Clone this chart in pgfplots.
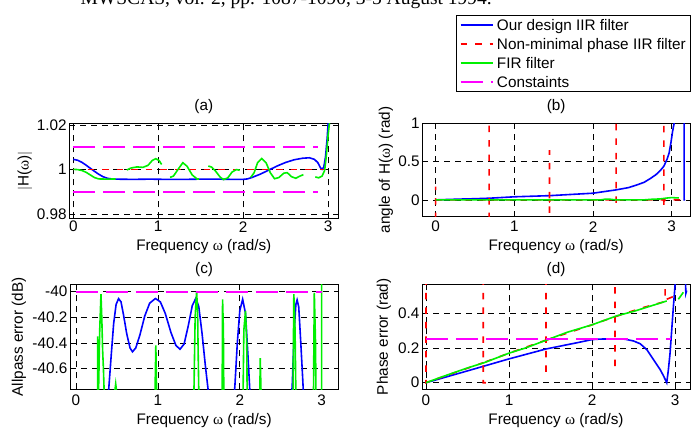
\documentclass[border=0pt]{standalone}
\usepackage{fontspec}
\setmainfont{Liberation Sans}
\newfontfamily\symb{Liberation Serif}
\newfontfamily\refont{Liberation Serif}
\usepackage{pgfplots}
\pgfplotsset{compat=1.18}

\newcommand{\om}{{\symb ω}}
\definecolor{mlgreen}{RGB}{0,240,0}
\definecolor{mlblue}{RGB}{0,0,255}
\definecolor{mlred}{RGB}{255,0,0}
\definecolor{mlmag}{RGB}{255,0,255}

\tikzset{
  iir/.style={color=mlblue, line width=1.6pt},
  nmp/.style={color=mlred, line width=1.6pt, dash pattern=on 6.5pt off 8pt},
  fir/.style={color=mlgreen, line width=1.6pt},
  cons/.style={color=mlmag, line width=2pt, dash pattern=on 22pt off 8pt},
}

\pgfplotsset{
  every axis title shift=0pt,
  panel/.style={
    scale only axis,
    axis line style={line width=0.9pt},
    grid=major,
    major grid style={black, line width=0.6pt, dash pattern=on 6pt off 5pt},
    tick align=inside, major tick length=3pt,
    tick style={black, line width=0.6pt},
    xtick={0,1,2,3}, xticklabels={0,1,2,3},
    unbounded coords=jump,
    xlabel={Frequency \om\ (rad/s)},
    yticklabel style={anchor=east, inner sep=0pt, xshift=-2.5pt},
  },
}

\begin{document}
\fontsize{15.3}{18}\selectfont
\begin{tikzpicture}
\path[use as bounding box] (0pt,0pt) rectangle (699pt,-429pt);
\node[anchor=base east, inner sep=0pt, font=\refont\fontsize{19.5}{22}\selectfont] at (492pt,-4.5pt)
  {MWSCAS, vol. 2, pp. 1087-1090, 3-5 August 1994.};

% (a) magnitude
\begin{axis}[panel,
  at={(69.3pt,-218.3pt)}, anchor=south west, width=269pt, height=95pt,
  xmin=-0.047, xmax=3.121, ymin=0.978, ymax=1.0207,
  ytick={0.98,1,1.02}, yticklabels={0.98,1,1.02},
  xticklabel style={anchor=center, inner sep=0pt, yshift=-8.4pt},
  title={(a)}, title style={at={(axis description cs:0.5,1.1747)}, anchor=center},
  xlabel style={at={(axis description cs:0.5,-0.299)}, anchor=center},
  ylabel={$|$H(\om)$|$}, ylabel style={at={(axis description cs:-0.1647,0.5)}, anchor=center},
]
\addplot[iir] coordinates {(0,1.0045)(0.05,1.0041)(0.1,1.0032)(0.15,1.0019)(0.2,1.0005)(0.25,0.9991)(0.3,0.9978)(0.35,0.9967)(0.4,0.9960)(0.45,0.9957)(0.5,0.9956)(0.7,0.9955)(0.9,0.9956)(1.1,0.9955)(1.3,0.9955)(1.5,0.9956)(1.7,0.9956)(1.9,0.9955)(2.0,0.9955)(2.05,0.9957)(2.1,0.9963)(2.2,0.9978)(2.32,1.0)(2.4,1.0015)(2.5,1.0031)(2.6,1.0043)(2.7,1.0050)(2.78,1.0052)(2.84,1.0045)(2.88,1.0030)(2.91,1.0008)(2.93,1.0)(2.95,1.0010)(2.97,1.0055)(2.99,1.0140)(3.005,1.0230)};
\addplot[nmp] coordinates {(0,1)(3.0,1)};
\addplot[fir] coordinates {(0,1.0)(0.05,0.9999)(0.1,0.9995)(0.15,0.9987)(0.2,0.9975)(0.25,0.9963)(0.3,0.9957)(0.4,0.9956)(0.5,0.9957)
 (0.56,nan)
 (0.63,0.9997)(0.68,1.0006)(0.75,1.0011)(0.82,1.0009)(0.88,1.0018)(0.93,1.0040)(0.97,1.0048)(1.01,1.0040)(1.04,1.0022)
 (1.1,nan)
 (1.14,0.9964)(1.18,0.9970)(1.23,0.9998)(1.29,1.0030)(1.34,1.0014)(1.40,0.9975)(1.46,0.9956)(1.48,0.9957)
 (1.55,nan)
 (1.59,1.0015)(1.63,1.0010)(1.68,0.9990)(1.73,0.9965)(1.77,0.9954)(1.82,0.9962)(1.87,0.9988)(1.92,0.9999)(1.96,0.9996)
 (2.03,nan)
 (2.09,0.9964)(2.13,0.9985)(2.17,1.0030)(2.22,1.0049)(2.27,1.0030)(2.32,0.9985)(2.37,0.9958)(2.42,0.9963)(2.48,0.9983)(2.52,0.9985)(2.57,0.9967)(2.62,0.9960)(2.67,0.9970)(2.71,0.9976)
 (2.8,nan)
 (2.85,0.9966)(2.89,0.9962)(2.93,0.9970)(2.96,0.9995)(2.98,1.006)(3.0,1.015)(3.02,1.022)};
\addplot[cons] coordinates {(0,1.01)(2.88,1.01) (1,nan) (0,0.99)(2.88,0.99)};
\end{axis}

% (b) phase
\begin{axis}[panel,
  at={(422.3pt,-216.7pt)}, anchor=south west, width=267.7pt, height=93.4pt,
  xmin=-0.17, xmax=3.232, ymin=-0.22, ymax=1.0,
  ytick={0,0.5,1}, yticklabels={0,0.5,1},
  xticklabel style={anchor=center, inner sep=0pt, yshift=-10pt},
  title={(b)}, title style={at={(axis description cs:0.5,1.1777)}, anchor=center},
  xlabel style={at={(axis description cs:0.5,-0.3212)}, anchor=center},
  ylabel={angle of H(\om) (rad)}, ylabel style={at={(axis description cs:-0.1356,0.5)}, anchor=center},
  legend style={at={(axis description cs:1.0026,2.156)}, anchor=north east, draw=black, line width=0.9pt, fill=white,
    inner xsep=3.5pt, inner ysep=0pt, row sep=0pt,
    nodes={inner sep=1pt, text height=14pt, text depth=3pt},
    /tikz/every odd column/.append style={column sep=2.3pt}},
  legend cell align=left,
  legend image code/.code={\draw[#1] (0pt,0pt) -- (32pt,0pt);},
]
\addplot[iir, forget plot] coordinates {(0,0)(0.31,0.01)(0.5,0.015)(0.69,0.022)(1.0,0.04)(1.45,0.055)(2.0,0.087)(2.29,0.13)(2.45,0.16)(2.56,0.196)(2.65,0.23)(2.73,0.28)(2.8,0.33)(2.86,0.39)(2.9,0.44)(2.94,0.53)(2.966,0.61)(2.99,0.75)(3.01,0.89)(3.03,1.0)(3.04,1.1) (3.1,nan) (3.157,1.1)(3.157,0.0)(3.17,0)};
\addplot[nmp, forget plot] coordinates {(0,-0.25)(0,0.174) (0.3,nan)
 (0.68,-0.25)(0.68,1.1) (1,nan)
 (1.447,-0.17)(1.447,0.65) (2,nan)
 (2.294,-0.04)(2.294,1.1) (2.5,nan)
 (2.90,-0.065)(2.90,1.1) (3,nan)
 (0,0)(0.66,0)(0.68,-0.03)(0.70,0)(1.44,0)(1.447,-0.02)(1.46,0)(2.28,0)(2.294,-0.03)(2.31,0)(2.89,0)(2.90,-0.02)(2.92,0)(3.14,0)};
\addplot[fir, forget plot] coordinates {(0,0)(2.1,0)(2.15,0.008)(2.2,0.01)(2.25,0.004)(2.3,0)(2.65,0)(2.75,0.008)(2.85,0.012)(2.95,0.025)(3.0,0.03)(3.04,0.027)(3.09,0.025)};
\addlegendimage{iir}\addlegendentry{Our design IIR filter}
\addlegendimage{nmp}\addlegendentry{Non-minimal phase IIR filter}
\addlegendimage{fir}\addlegendentry{FIR filter}
\addlegendimage{cons}\addlegendentry{Constaints}
\end{axis}

% (c) allpass error
\begin{axis}[panel,
  at={(70pt,-389.3pt)}, anchor=south west, width=268.3pt, height=105pt,
  xmin=-0.073, xmax=3.203, ymin=-40.763, ymax=-39.943,
  ytick={-40.6,-40.4,-40.2,-40}, yticklabels={-40.6,-40.4,-40.2,-40},
  xticklabel style={anchor=center, inner sep=0pt, yshift=-10.7pt},
  title={(c)}, title style={at={(axis description cs:0.5,1.136)}, anchor=center},
  xlabel style={at={(axis description cs:0.5,-0.297)}, anchor=center},
  ylabel={Allpass error (dB)}, ylabel style={at={(axis description cs:-0.19,0.5)}, anchor=center},
]
\addplot[iir] coordinates {(0.38,-40.85)(0.40,-40.76)(0.43,-40.5)(0.46,-40.25)(0.49,-40.1)(0.52,-40.055)(0.55,-40.08)(0.58,-40.18)(0.62,-40.33)(0.66,-40.44)(0.69,-40.47)(0.73,-40.44)(0.78,-40.34)(0.84,-40.19)(0.90,-40.09)(0.97,-40.054)(1.03,-40.08)(1.09,-40.17)(1.16,-40.32)(1.22,-40.42)(1.27,-40.45)(1.32,-40.41)(1.37,-40.27)(1.42,-40.11)(1.465,-40.05)(1.50,-40.12)(1.54,-40.33)(1.58,-40.58)(1.616,-40.78)(1.63,-40.9)
 (1.8,nan)
 (1.92,-40.9)(1.94,-40.74)(1.97,-40.4)(2.0,-40.15)(2.035,-40.06)(2.07,-40.17)(2.10,-40.5)(2.125,-40.8)
 (2.4,nan)
 (2.62,-40.9)(2.64,-40.74)(2.665,-40.3)(2.685,-40.1)(2.70,-40.065)(2.72,-40.12)(2.745,-40.4)(2.77,-40.7)(2.785,-40.9)};
\addplot[fir] coordinates {(0.265,-40.8)(0.265,-40.35) (0.27,nan)
 (0.275,-40.8)(0.29,-40.3)(0.305,-40.02)(0.315,-40.2)(0.325,-40.45)(0.335,-40.6)(0.345,-40.8) (0.4,nan)
 (0.47,-40.8)(0.485,-40.72)(0.50,-40.8) (0.6,nan)
 (0.965,-40.8)(0.975,-40.42)(0.985,-40.8) (1.2,nan)
 (1.44,-40.8)(1.455,-40.2)(1.473,-40.0)(1.485,-40.15)(1.49,-40.4)(1.50,-40.8) (1.6,nan)
 (1.785,-40.8)(1.79,-40.06)(1.80,-40.3)(1.805,-40.8) (1.9,nan)
 (2.04,-40.8)(2.05,-40.3)(2.07,-40.15)(2.085,-40.4)(2.09,-40.8) (2.2,nan)
 (2.245,-40.8)(2.25,-40.52)(2.26,-40.8) (2.5,nan)
 (2.65,-40.8)(2.66,-40.02)(2.675,-40.3)(2.685,-40.8) (2.8,nan)
 (2.90,-40.8)(2.91,-40.01)(2.925,-40.4)(2.93,-40.8) (2.95,nan)
 (3.0,-40.8)(3.0,-39.9)};
\addplot[cons] coordinates {(0,-40)(3.0,-40)};
\end{axis}

% (d) phase error
\begin{axis}[panel,
  at={(422pt,-389.3pt)}, anchor=south west, width=268pt, height=105pt,
  xmin=-0.048, xmax=3.18, ymin=-0.038, ymax=0.566,
  ytick={0,0.2,0.4}, yticklabels={0,0.2,0.4},
  xticklabel style={anchor=center, inner sep=0pt, yshift=-10.7pt},
  title={(d)}, title style={at={(axis description cs:0.5,1.136)}, anchor=center},
  xlabel style={at={(axis description cs:0.5,-0.297)}, anchor=center},
  ylabel={Phase error (rad)}, ylabel style={at={(axis description cs:-0.1418,0.5)}, anchor=center},
]
\addplot[iir] coordinates {(0,0)(0.5,0.068)(1,0.137)(1.446,0.194)(1.8,0.228)(2.0,0.248)(2.1,0.251)(2.3,0.252)(2.4,0.25)(2.5,0.24)(2.58,0.224)(2.66,0.19)(2.74,0.133)(2.82,0.076)(2.86,0.04)(2.90,0.0)(2.92,0.076)(2.94,0.171)(2.96,0.305)(2.98,0.438)(3.0,0.56)(3.01,0.62) (3.05,nan) (3.125,0.6)(3.13,0.514)(3.14,0.53)};
\addplot[nmp] coordinates {(0,0.6)(0,0)(0.3,0.05)(0.69,0.115) (0.69,nan)
 (0.69,0.6)(0.69,0.0)(0.72,0.0) (0.72,nan)
 (0.72,0.12)(1.0,0.17)(1.446,0.245) (1.446,nan)
 (1.446,0.6)(1.446,0.038) (1.447,nan)
 (1.45,0.245)(2.0,0.333)(2.277,0.38) (2.277,nan)
 (2.277,0.55)(2.277,0.057) (2.278,nan)
 (2.28,0.38)(2.6,0.43)(2.88,0.467)(2.88,0.6) (2.89,nan)
 (2.9,0.48)(3.0,0.5)(3.05,0.51)};
\addplot[fir] coordinates {(0,0)(0.2,0.035)(0.5,0.085)(0.7,0.115)(1.0,0.17)(1.2,0.2)(1.45,0.245)(1.7,0.29)(2.0,0.333)(2.3,0.385)(2.5,0.41)(2.7,0.44)(2.88,0.467)(2.9,0.47) (2.95,nan) (3.04,0.48)(3.07,0.5)(3.1,0.52)};
\addplot[cons] coordinates {(0,0.25)(2.95,0.25)};
\end{axis}
\end{tikzpicture}
\end{document}
